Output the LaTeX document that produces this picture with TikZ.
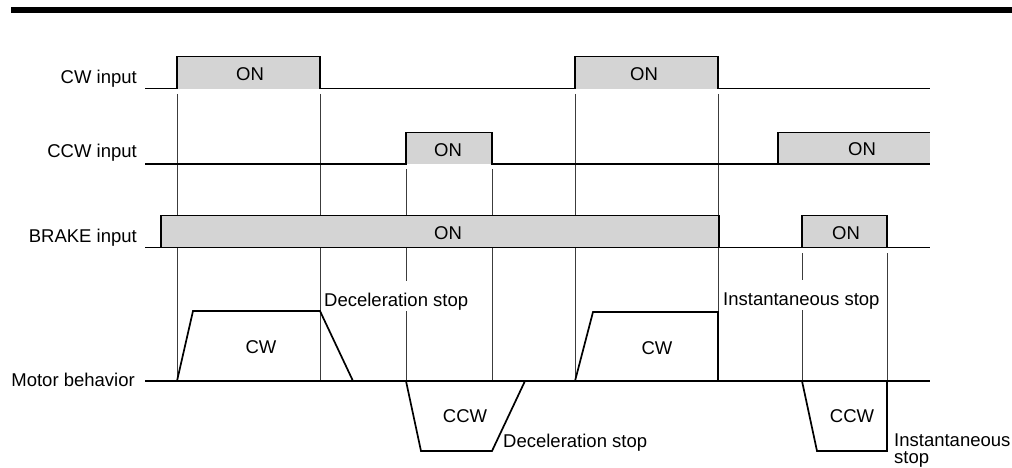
\documentclass[tikz,border=0pt]{standalone}
\usepackage{fontspec}
\setmainfont{Liberation Sans}
\definecolor{pulsefill}{RGB}{212,212,212}
\definecolor{guidecol}{RGB}{60,60,60}
\begin{document}
\begin{tikzpicture}[x=1pt,y=-1pt,
  lbl/.style={font=\fontsize{18.5}{17.3}\selectfont, inner sep=0pt},
  gapnote/.style={lbl, fill=white, inner xsep=1pt, text height=25pt, text depth=5pt},
  guide/.style={line width=0.9pt, draw=guidecol},
  sig/.style={line width=1.5pt, line join=miter, line cap=butt},
  motor/.style={line width=1.7pt, line join=miter}]
\useasboundingbox (0,0) rectangle (1012,468);
% top rule
\fill[black] (11,7.3) rectangle (1012,13.3);

% coordinates
\coordinate (cwL) at (145,88.7);   \coordinate (cwR) at (930,88.7);
\coordinate (ccwL) at (145,164);   \coordinate (ccwR) at (930,164);
\coordinate (brL) at (145,247.7);  \coordinate (brR) at (930,247.7);
\coordinate (moL) at (145,381);    \coordinate (moR) at (930,381);

% guide lines
\draw[guide] (177,94) -- (177,381);
\draw[guide] (320,94) -- (320,381);
\draw[guide] (406,169) -- (406,381);
\draw[guide] (492,169) -- (492,381);
\draw[guide] (575,94) -- (575,381);
\draw[guide] (718,94) -- (718,381);
\draw[guide] (802,253) -- (802,381);
\draw[guide] (887,253) -- (887,381);

% notes that interrupt guides
\node[gapnote, anchor=base west] (decel1) at (323,306) {Deceleration stop};
\node[gapnote, anchor=base west] (inst1) at (722,305.3) {Instantaneous stop};

% pulse fills
\fill[pulsefill] (177,56.7) rectangle (320,88.7);
\fill[pulsefill] (575,56.7) rectangle (718,88.7);
\fill[pulsefill] (406,132.7) rectangle (492,164);
\fill[pulsefill] (778,132.7) rectangle (930,164);
\fill[pulsefill] (161,215.3) rectangle (719,247.7);
\fill[pulsefill] (802,215.3) rectangle (887,247.7);

% CW input signal
\draw[sig] (cwL) -- (177,88.7) -- (177,56.7) -- (320,56.7) -- (320,88.7)
  -- (575,88.7) -- (575,56.7) -- (718,56.7) -- (718,88.7) -- (cwR);
% CCW input signal
\draw[sig] (ccwL) -- (406,164) -- (406,132.7) -- (492,132.7) -- (492,164) -- (ccwR);
\draw[sig] (778,164) -- (778,132.7) -- (930,132.7);
% BRAKE input signal
\draw[sig] (brL) -- (brR);
\draw[sig] (161,247.7) -- (161,215.3) -- (719,215.3) -- (719,247.7);
\draw[sig] (802,247.7) -- (802,215.3) -- (887,215.3) -- (887,247.7);

% Motor behavior
\draw[sig] (moL) -- (moR);
\draw[motor] (177,381) -- (193,311) -- (320,311) -- (353,381);
\draw[motor] (406,381) -- (421,451) -- (492,451) -- (525,381);
\draw[motor] (575,381) -- (593,312) -- (718,312) -- (718,381);
\draw[motor] (802,381) -- (817,451) -- (887,451) -- (887,381);

% labels
\node[lbl, anchor=base east] (cwlabel) at (137,83.3) {CW input};
\node[lbl, anchor=base east] (ccwlabel) at (137,157.7) {CCW input};
\node[lbl, anchor=base east] (brlabel) at (137,242) {BRAKE input};
\node[lbl, anchor=base east] (molabel) at (135,386) {Motor behavior};

\node[lbl, anchor=base] (on1) at (250,81) {ON};
\node[lbl, anchor=base] (on2) at (644,81) {ON};
\node[lbl, anchor=base] (on3) at (448,156.7) {ON};
\node[lbl, anchor=base] (on4) at (862,156) {ON};
\node[lbl, anchor=base] (on5) at (448,239.3) {ON};
\node[lbl, anchor=base] (on6) at (846,239) {ON};

\node[lbl, anchor=base] (cw1) at (261,353.3) {CW};
\node[lbl, anchor=base] (cw2) at (657,354.3) {CW};
\node[lbl, anchor=base] (ccw1) at (465,422.3) {CCW};
\node[lbl, anchor=base] (ccw2) at (852,422.3) {CCW};

\node[lbl, anchor=base west] (decel2) at (503,447.7) {Deceleration stop};
\node[lbl, anchor=base west] (inst2) at (894,446.7) {Instantaneous};
\node[lbl, anchor=base west] (inst2b) at (894,463.5) {stop};
\end{tikzpicture}
\end{document}
